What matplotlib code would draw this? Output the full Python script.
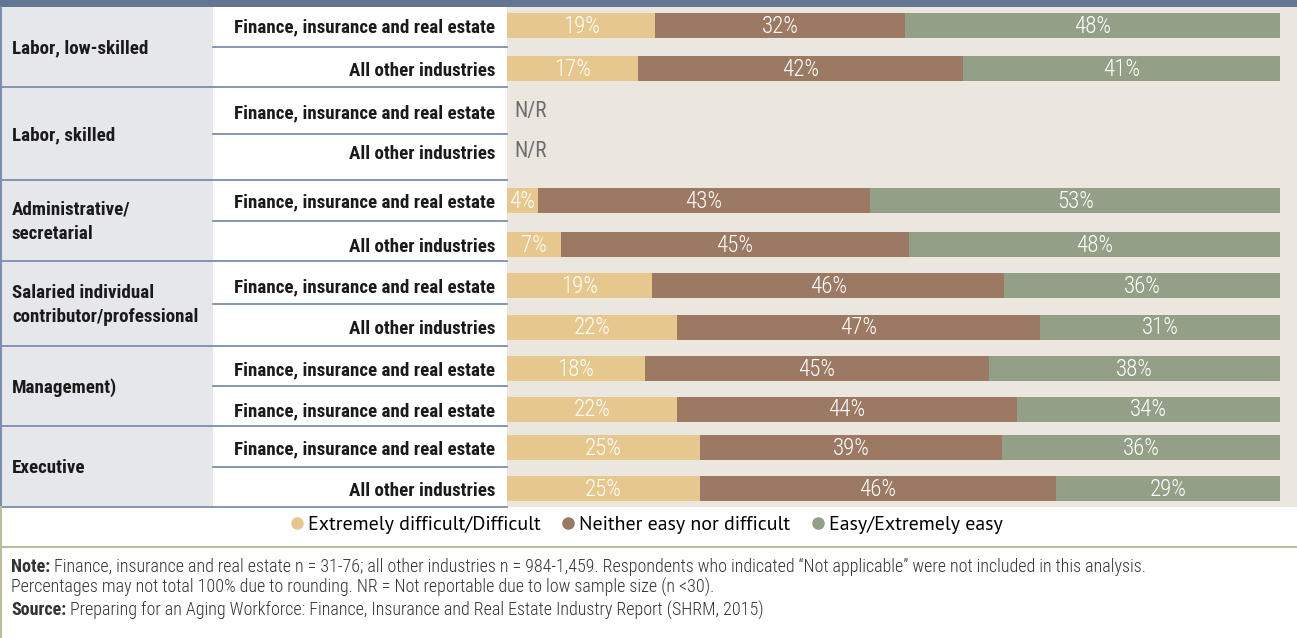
import numpy as np
import matplotlib.pyplot as plt
from matplotlib.patches import Rectangle
from matplotlib.lines import Line2D

# ---------------数据--------------
groups = ['Labor, low-skilled', 'Labor, skilled', 'Administrative/\nsecretarial',
          'Salaried individual\ncontributor/professional', 'Management)', 'Executive']
rows = ['Finance, insurance and real estate', 'All other industries'] * 6
rows[9] = 'Finance, insurance and real estate'   # 原图如此
difficult = [19, 17, np.nan, np.nan, 4, 7, 19, 22, 18, 22, 25, 25]
neither = [32, 42, np.nan, np.nan, 43, 45, 46, 47, 45, 44, 39, 46]
easy = [48, 41, np.nan, np.nan, 53, 48, 36, 31, 38, 34, 36, 29]
legend_labels = ['Extremely difficult/Difficult', 'Neither easy nor difficult', 'Easy/Extremely easy']
note = ('Finance, insurance and real estate n = 31-76; all other industries n = 984-1,459. '
        'Respondents who indicated \u201cNot applicable\u201d were not included in this analysis.')
note2 = 'Percentages may not total 100% due to rounding. NR = Not reportable due to low sample size (n <30).'
source = 'Preparing for an Aging Workforce: Finance, Insurance and Real Estate Industry Report (SHRM, 2015)'

colors = ['#e6c88e', '#9b7963', '#939f86']
line_c = '#7b8fae'
narrow = ['Roboto Condensed', 'DejaVu Sans']

# ---------------布局（像素）--------------
W, H = 1297, 638
group_edges = [7, 87, 180, 261, 346, 426, 507]
row_y = [25.5, 68.5, 111, 152, 200.5, 244.5, 285.5, 327, 368, 409, 447.5, 488.5]
px_per_pct = 7.73

fig = plt.figure(figsize=(W / 100, H / 100), dpi=100)
bg = fig.add_axes([0, 0, 1, 1])
bg.set_xlim(0, W)
bg.set_ylim(H, 0)
bg.axis('off')

# 背景块
bg.add_patch(Rectangle((0, 0), W, 7, color='#627591', lw=0))
bg.add_patch(Rectangle((0, 7), 213, 500, color='#e6e7eb', lw=0))
bg.add_patch(Rectangle((213, 7), 294, 500, color='white', lw=0))
bg.add_patch(Rectangle((507, 7), W - 507, 500, color='#ebe7df', lw=0))

# 分隔线 + 分组标签
for i, e in enumerate(group_edges[1:]):
    bg.plot([0, 507], [e, e], color=line_c, lw=1.3)
    mid = (group_edges[i] + e) / 2
    bg.plot([213, 507], [mid, mid], color=line_c, lw=1.3)
    bg.text(12, mid + 1.5, groups[i], ha='left', va='center', fontsize=13.7, fontweight='bold',
            family=narrow, color='#1a1a1a', linespacing=1.45)
bg.plot([1, 1], [7, 507], color=line_c, lw=1.5)
bg.plot([1, 1], [507, H], color='#bdbb9b', lw=1.5)
bg.plot([0, W], [547, 547], color='#bdbb9b', lw=1.5)

for y, r in zip(row_y, rows):
    bg.text(495, y + 2, r, ha='right', va='center', fontsize=13.7, fontweight='bold',
            family=narrow, color='#1a1a1a')

# ---------------堆叠条形--------------
ax = fig.add_axes([507 / W, 1 - 507 / H, (W - 507) / W, 500 / H])
ax.set_xlim(0, (W - 507) / px_per_pct)
ax.set_ylim(507, 7)
ax.axis('off')

d = np.array(difficult, dtype=float)
n = np.array(neither, dtype=float)
e = np.array(easy, dtype=float)
total = d + n + e          # 四舍五入后不一定=100，条形按100%铺满
left = np.zeros(len(rows))
for vals, c in zip([d, n, e], colors):
    w = np.nan_to_num(vals / total * 100)
    ax.barh(row_y, w, left=left, height=25, color=c, lw=0)
    for y, l, ww, v in zip(row_y, left, w, vals):
        if not np.isnan(v):
            ax.text(l + ww / 2, y + 1, '%d%%' % v, ha='center', va='center', color='white',
                    fontsize=16.5, family=narrow, fontweight='light')
    left = left + w

for y, v in zip(row_y, difficult):
    if np.isnan(v):
        ax.text(1, y, 'N/R', ha='left', va='center', color='#6d6d6d', fontsize=15.5,
                family=narrow)

# ---------------图例--------------
handles = [Line2D([], [], marker='o', ls='', color=c, markersize=8) for c in colors]
fig.legend(handles, legend_labels, loc='center', bbox_to_anchor=(645 / W, 1 - 525 / H),
           ncol=3, frameon=False, handletextpad=0.05, columnspacing=0.9, handlelength=1.0,
           prop={'family': ['PT Sans', 'DejaVu Sans'], 'size': 14.3})

# ---------------注释--------------
fig.canvas.draw()
r = fig.canvas.get_renderer()
for y, head, body in [(567, 'Note:', note), (610, 'Source:', source)]:
    t = bg.text(11, y, head, ha='left', va='center', fontsize=13, fontweight='bold',
                family=narrow, color='#333333')
    w = t.get_window_extent(r).width
    bg.text(11 + w + 4, y, body, ha='left', va='center', fontsize=13, family=narrow,
            fontweight='light', color='#333333')
bg.text(11, 587, note2, ha='left', va='center', fontsize=13, family=narrow,
        fontweight='light', color='#333333')

plt.savefig('out.png', dpi=100)
